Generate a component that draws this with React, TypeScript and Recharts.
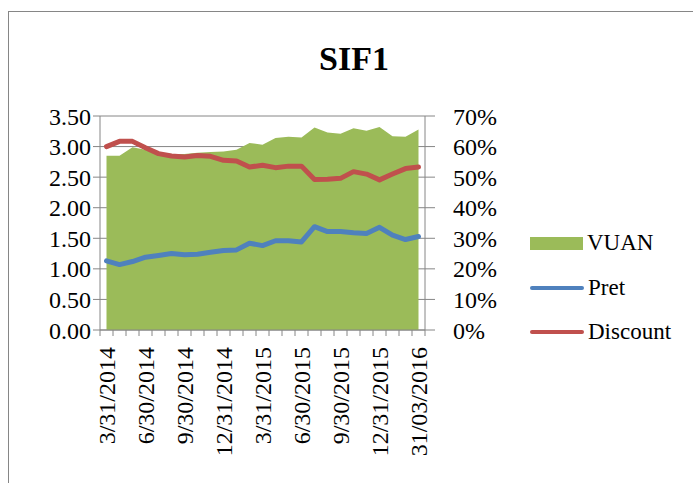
import { ComposedChart, Area, Line, XAxis, YAxis, CartesianGrid, Legend } from 'recharts'

const FONT = "'Liberation Serif', 'DejaVu Serif', serif"
const GRAY = '#868686'

// month-end dates, labels shown every third month
const months = [
  '3/31/2014', '4/30/2014', '5/31/2014', '6/30/2014', '7/31/2014', '8/31/2014',
  '9/30/2014', '10/31/2014', '11/30/2014', '12/31/2014', '1/31/2015', '2/28/2015',
  '3/31/2015', '4/30/2015', '5/31/2015', '6/30/2015', '7/31/2015', '8/31/2015',
  '9/30/2015', '10/31/2015', '11/30/2015', '12/31/2015', '1/31/2016', '2/29/2016',
  '31/03/2016'
]

const vuan = [
  2.85, 2.85, 2.99, 2.95, 2.9, 2.88, 2.88, 2.9, 2.91, 2.92, 2.95, 3.06, 3.03,
  3.14, 3.16, 3.15, 3.31, 3.23, 3.21, 3.3, 3.26, 3.32, 3.17, 3.16, 3.28
]

const pret = [
  1.13, 1.07, 1.12, 1.19, 1.22, 1.25, 1.23, 1.24, 1.27, 1.3, 1.31, 1.42, 1.38,
  1.46, 1.46, 1.44, 1.69, 1.61, 1.61, 1.59, 1.58, 1.68, 1.55, 1.48, 1.53
]

const discount = [
  0.6, 0.617, 0.617, 0.596, 0.577, 0.569, 0.566, 0.571, 0.568, 0.555, 0.553, 0.533, 0.539,
  0.531, 0.536, 0.536, 0.492, 0.493, 0.496, 0.518, 0.51, 0.491, 0.51, 0.528, 0.533
]

const leftTicks = [0, 0.5, 1, 1.5, 2, 2.5, 3, 3.5]
const rightTicks = [0, 0.1, 0.2, 0.3, 0.4, 0.5, 0.6, 0.7]

const data = months.map((m, i) => ({
  month: m,
  VUAN: vuan[i],
  Pret: pret[i],
  Discount: discount[i]
}))

const W = 693
const H = 483
const PLOT_LEFT = 100
const PLOT_RIGHT = 425
const HALF_STEP = (PLOT_RIGHT - PLOT_LEFT) / months.length / 2

function MonthTick(props: any) {
  const { x, y, payload, index } = props
  const showLabel = index % 3 === 0
  return (
    <g>
      <line x1={x - HALF_STEP} x2={x - HALF_STEP} y1={y - 6} y2={y} stroke={GRAY} strokeWidth={1} />
      {index === months.length - 1 && (
        <line x1={x + HALF_STEP} x2={x + HALF_STEP} y1={y - 6} y2={y} stroke={GRAY} strokeWidth={1} />
      )}
      {showLabel && (
        <text
          x={x}
          y={y + 11}
          transform={`rotate(-90, ${x}, ${y + 11})`}
          textAnchor="end"
          dy="0.35em"
          style={{ fontFamily: FONT, fontSize: 24 }}
          fill="#000"
        >
          {payload.value}
        </text>
      )}
    </g>
  )
}

const legendItems = [
  { name: 'VUAN', color: '#9BBB59', kind: 'area' },
  { name: 'Pret', color: '#4F81BD', kind: 'line' },
  { name: 'Discount', color: '#C0504D', kind: 'line' }
]

function renderLegend() {
  return (
    <div style={{ fontFamily: FONT, fontSize: 23, color: '#000' }}>
      {legendItems.map((item) => (
        <div key={item.name} style={{ height: 44.5, display: 'flex', alignItems: 'center' }}>
          {item.kind === 'area' ? (
            <div style={{ width: 53, height: 13, background: item.color }} />
          ) : (
            <div style={{ width: 54, height: 4, borderRadius: 2, background: item.color }} />
          )}
          <span style={{ marginLeft: 4 }}>{item.name}</span>
        </div>
      ))}
    </div>
  )
}

export default function App() {
  return (
    <div style={{ position: 'absolute', left: 0, top: 0, width: W, height: H, overflow: 'hidden', background: '#fff', fontFamily: FONT }}>
      <div
        style={{
          position: 'absolute',
          left: 8,
          top: 11,
          width: W,
          height: H,
          borderLeft: `1.5px solid ${GRAY}`,
          borderTop: `1.5px solid ${GRAY}`
        }}
      />
      <div
        style={{
          position: 'absolute',
          left: 254,
          top: 42,
          width: 200,
          textAlign: 'center',
          fontFamily: FONT,
          fontWeight: 'bold',
          fontSize: 34,
          lineHeight: '34px'
        }}
      >
        SIF1
      </div>
      <div style={{ position: 'absolute', left: 0, top: 0 }}>
        <ComposedChart
          width={W}
          height={H}
          data={data}
          margin={{ top: 116, right: 208, bottom: 13, left: 8 }}
          style={{ fontFamily: FONT }}
        >
          <CartesianGrid vertical={false} stroke={GRAY} yAxisId="left" />
          <XAxis
            dataKey="month"
            interval={0}
            height={140}
            padding={{ left: HALF_STEP, right: HALF_STEP }}
            axisLine={{ stroke: GRAY }}
            tickLine={false}
            tickSize={6}
            tickMargin={0}
            tick={<MonthTick />}
          />
          <YAxis
            yAxisId="left"
            width={92}
            domain={[0, 3.5]}
            ticks={leftTicks}
            interval={0}
            tickFormatter={(v: number) => v.toFixed(2)}
            axisLine={{ stroke: GRAY }}
            tickLine={{ stroke: GRAY }}
            tickSize={7}
            tickMargin={2}
            tick={{ fill: '#000', fontSize: 24, fontFamily: FONT }}
          />
          <YAxis
            yAxisId="right"
            orientation="right"
            width={60}
            domain={[0, 0.7]}
            ticks={rightTicks}
            interval={0}
            tickFormatter={(v: number) => `${Math.round(v * 100)}%`}
            axisLine={{ stroke: GRAY }}
            tickLine={{ stroke: GRAY }}
            tickSize={10}
            tickMargin={18}
            tick={{ fill: '#000', fontSize: 24, fontFamily: FONT, textAnchor: 'start' }}
          />
          <Area
            yAxisId="left"
            type="linear"
            dataKey="VUAN"
            fill="#9BBB59"
            fillOpacity={1}
            stroke="none"
            isAnimationActive={false}
          />
          <Line
            yAxisId="left"
            type="linear"
            dataKey="Pret"
            stroke="#4F81BD"
            strokeWidth={5}
            strokeLinecap="round"
            strokeLinejoin="round"
            dot={false}
            isAnimationActive={false}
          />
          <Line
            yAxisId="right"
            type="linear"
            dataKey="Discount"
            stroke="#C0504D"
            strokeWidth={5}
            strokeLinecap="round"
            strokeLinejoin="round"
            dot={false}
            isAnimationActive={false}
          />
          <Legend
            layout="vertical"
            align="center"
            verticalAlign="middle"
            content={renderLegend}
            wrapperStyle={{ left: 530, top: 221, width: 160 }}
          />
        </ComposedChart>
      </div>
    </div>
  )
}
